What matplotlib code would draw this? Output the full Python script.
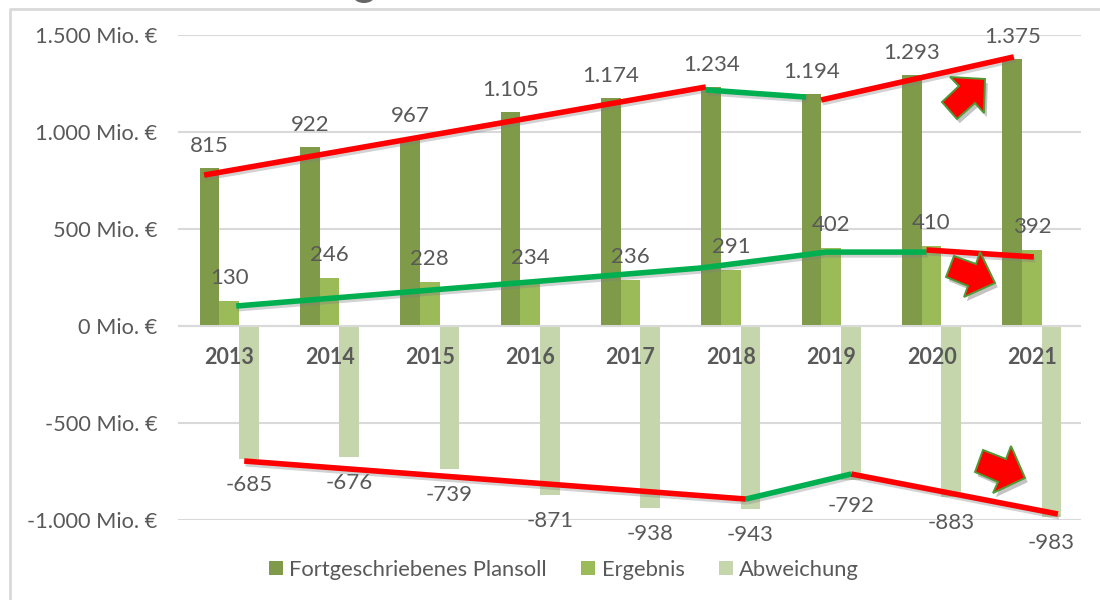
"""
Plansoll / Ergebnis / Abweichung 2013-2021 mit Trendlinien und Pfeilen
"""

import matplotlib
matplotlib.use('Agg')
import matplotlib.pyplot as plt
import matplotlib.patheffects as pe
from matplotlib.patches import Polygon, Ellipse
from matplotlib.transforms import Affine2D
import numpy as np

# ========== Daten ==========
years = ['2013', '2014', '2015', '2016', '2017', '2018', '2019', '2020', '2021']
plansoll = [815, 922, 967, 1105, 1174, 1234, 1194, 1293, 1375]
ergebnis = [130, 246, 228, 234, 236, 291, 402, 410, 392]
abweichung = [-685, -676, -739, -871, -938, -943, -792, -883, -983]
yticks = [-1000, -500, 0, 500, 1000, 1500]
ytick_labels = ['-1.000 Mio. €', '-500 Mio. €', '0 Mio. €', '500 Mio. €', '1.000 Mio. €', '1.500 Mio. €']

# Trendlinien von Hand eingezeichnet (x in Kategorien, y in Mio. €)
top_red1_x, top_red1_y = [-0.25, 4.75], [778, 1232]
top_green_x, top_green_y = [4.75, 5.75], [1217, 1180]
top_red2_x, top_red2_y = [5.90, 7.82], [1165, 1387]
mid_green_x, mid_green_y = [0.07, 4.70, 5.95, 6.95], [103, 299, 381, 381]
mid_red_x, mid_red_y = [6.95, 8.02], [392, 356]
low_red1_x, low_red1_y = [0.15, 5.15], [-696, -892]
low_green_x, low_green_y = [5.15, 6.20], [-892, -763]
low_red2_x, low_red2_y = [6.20, 8.26], [-763, -969]

# Pfeile in Bildpixeln
arrow_up = [(950, 77), (985, 79), (984, 113), (975, 103), (957, 119), (942, 102), (959, 86)]
arrow_mid = [(954, 256), (976, 264), (980, 252), (995, 283), (964, 297), (968, 286), (946, 277)]
arrow_low = [(983, 450), (1006, 459), (1011, 446), (1025, 478), (993, 493), (998, 482), (975, 472)]

# ========== Stil ==========
plt.rcParams['font.family'] = ['Lato', 'DejaVu Sans']
TEXT = '#595959'
GRID = '#d9d9d9'
C_PLAN = '#7f9a48'
C_ERG = '#9bbb59'
C_ABW = '#c6d6ac'
RED = '#ff0000'
GREEN = '#00b050'

W, H = 1100, 600
fig = plt.figure(figsize=(W / 100, H / 100), dpi=100)
ax = fig.add_axes([178 / W, 1 - 520 / H, (1081 - 178) / W, (520 - 35) / H])

x = np.arange(len(years))
bw = 0.195

ax.set_xlim(-0.51, 8.49)
ax.set_ylim(-1000, 1500)
ax.set_yticks(yticks)
ax.set_yticklabels(ytick_labels, fontsize=15.7, color=TEXT)
ax.set_xticks([])
ax.tick_params(axis='y', length=0, pad=15)
ax.grid(True, axis='y', color=GRID, linewidth=1.5)
ax.set_axisbelow(True)
for s in ax.spines.values():
    s.set_visible(False)

b1 = ax.bar(x - bw, plansoll, bw, color=C_PLAN, label='Fortgeschriebenes Plansoll', zorder=2)
b2 = ax.bar(x, ergebnis, bw, color=C_ERG, label='Ergebnis', zorder=2)
b3 = ax.bar(x + bw, abweichung, bw, color=C_ABW, label='Abweichung', zorder=2)
ax.axhline(0, color=GRID, linewidth=1.5, zorder=3)


def fmt(v):
    return f'{v:,}'.replace(',', '.')


for xs, vals, dy in [(x - bw, plansoll, 22), (x, ergebnis, 23), (x + bw, abweichung, -26)]:
    for xi, v in zip(xs, vals):
        ax.annotate(fmt(v), (xi, v), xytext=(0, dy), textcoords='offset pixels',
                    ha='center', va='center', fontsize=16, color=TEXT, zorder=4)

# Jahreszahlen unter der Nulllinie
for xi, year in zip(x, years):
    ax.annotate(year, (xi, 0), xytext=(0, -31), textcoords='offset pixels',
                ha='center', va='center', fontsize=15.5, fontweight='bold', color=TEXT, zorder=4)

# ========== Trendlinien ==========
shadow = [pe.SimpleLineShadow(offset=(1, -2), shadow_color='#808080', alpha=0.35), pe.Normal()]
for lx, ly, col in [(top_red1_x, top_red1_y, RED), (top_green_x, top_green_y, GREEN),
                    (top_red2_x, top_red2_y, RED), (mid_green_x, mid_green_y, GREEN),
                    (mid_red_x, mid_red_y, RED), (low_red1_x, low_red1_y, RED),
                    (low_green_x, low_green_y, GREEN), (low_red2_x, low_red2_y, RED)]:
    ax.plot(lx, ly, color=col, linewidth=4.0, solid_capstyle='butt',
            solid_joinstyle='miter', path_effects=shadow, zorder=5)

# ========== Pfeile + Rahmen (Bildpixel, y von oben) ==========
px = Affine2D().scale(1, -1).translate(0, H)
for pts in [arrow_up, arrow_mid, arrow_low]:
    fig.add_artist(Polygon(pts, closed=True, facecolor=RED, edgecolor='#4f9a35', linewidth=1.4,
                           transform=px, zorder=6,
                           path_effects=[pe.SimplePatchShadow(offset=(2, -3), shadow_rgbFace='#555555', alpha=0.35),
                                         pe.Normal()]))

fig.add_artist(plt.Line2D([9.5, 9.5, W], [H, 8.5, 8.5], color=GRID, linewidth=2, transform=px))

# abgeschnittener Titelrest oben
fig.add_artist(Ellipse((364, -3), 20, 12, facecolor='#666666', edgecolor='none', transform=px))

# ========== Legende ==========
fig.legend(handles=[b1, b2, b3], loc='center', bbox_to_anchor=(564 / W, 1 - 570 / H),
           ncol=3, frameon=False, fontsize=15.85, labelcolor=TEXT,
           handlelength=0.63, handleheight=0.63, handletextpad=0.3, columnspacing=1.55)

fig.savefig('out.png', dpi=100)
